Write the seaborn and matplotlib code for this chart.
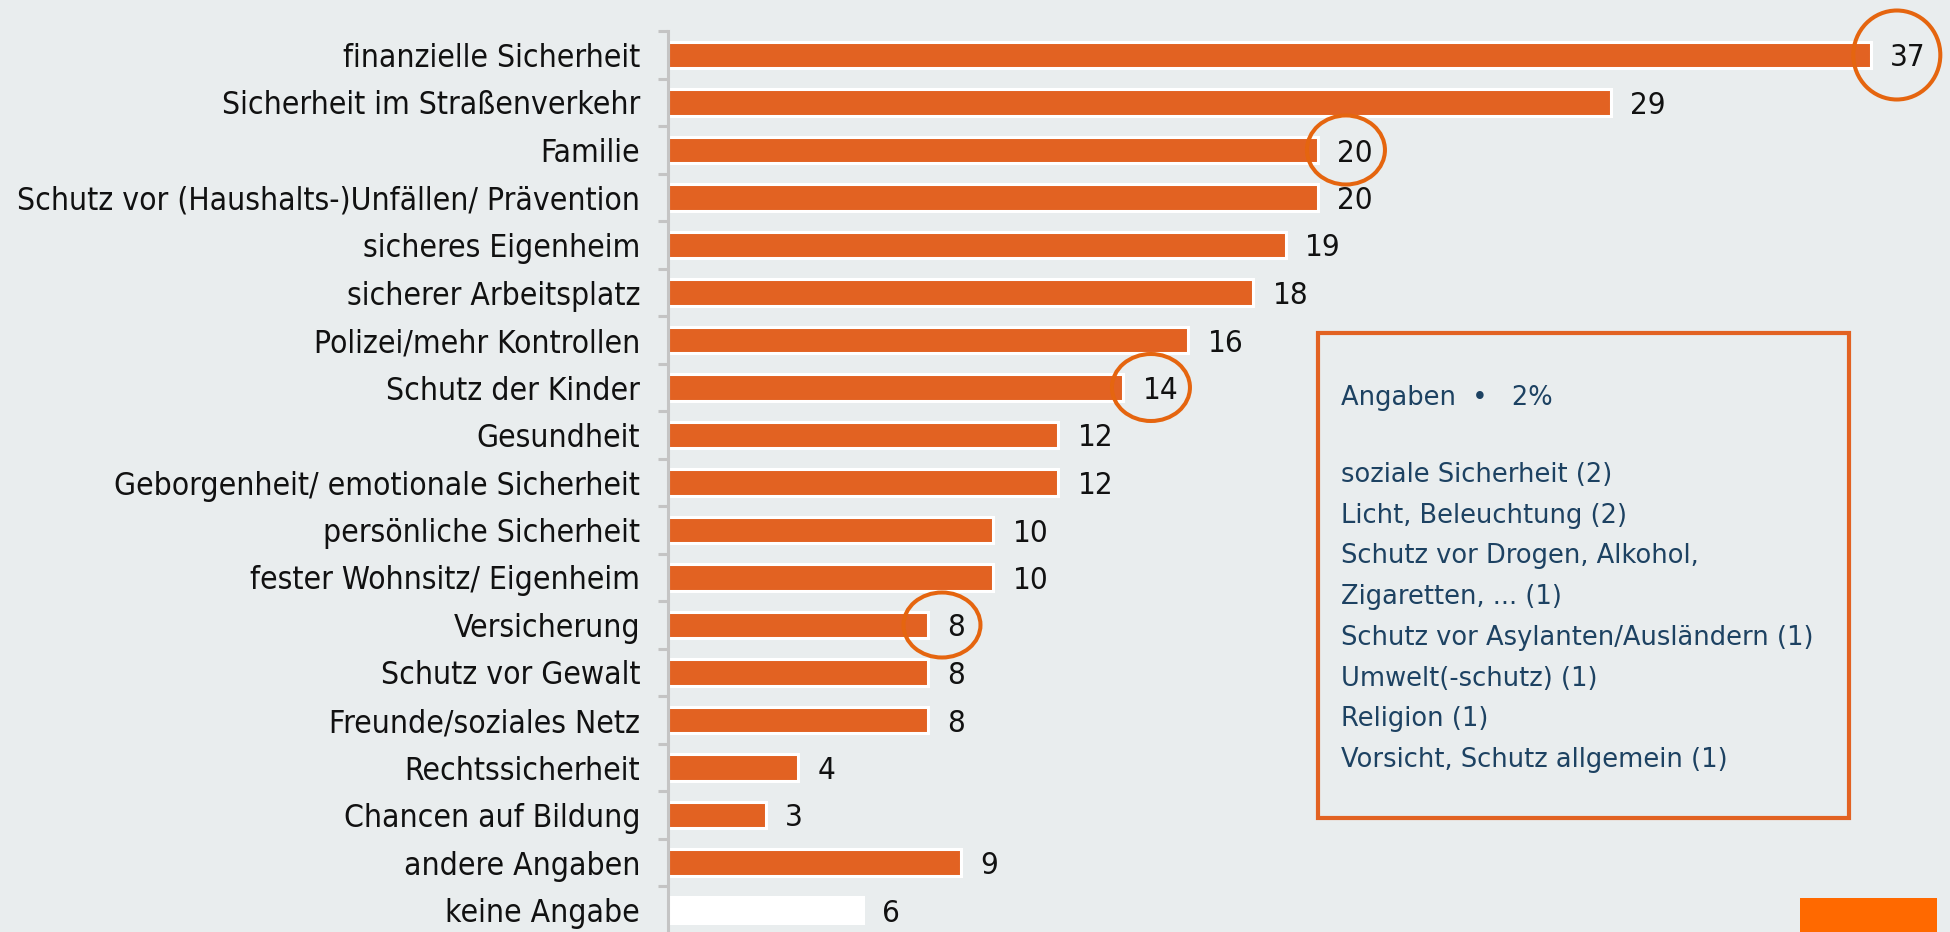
import numpy as np
import pandas as pd
import seaborn as sns
import matplotlib.pyplot as plt
from matplotlib.patches import Ellipse, Rectangle

# data (percent)
categories = ['finanzielle Sicherheit', 'Sicherheit im Straßenverkehr', 'Familie',
              'Schutz vor (Haushalts-)Unfällen/ Prävention', 'sicheres Eigenheim',
              'sicherer Arbeitsplatz', 'Polizei/mehr Kontrollen', 'Schutz der Kinder',
              'Gesundheit', 'Geborgenheit/ emotionale Sicherheit', 'persönliche Sicherheit',
              'fester Wohnsitz/ Eigenheim', 'Versicherung', 'Schutz vor Gewalt',
              'Freunde/soziales Netz', 'Rechtssicherheit', 'Chancen auf Bildung',
              'andere Angaben', 'keine Angabe']
values = [37, 29, 20, 20, 19, 18, 16, 14, 12, 12, 10, 10, 8, 8, 8, 4, 3, 9, 6]

# circled values: category, x shift of circle centre, circle width/height in px
highlight = [('finanzielle Sicherheit', 0.81, 87, 89),
             ('Familie', 0.86, 78, 69),
             ('Schutz der Kinder', 0.86, 78, 67),
             ('Versicherung', 0.43, 77, 65)]

box_title = 'Angaben  •   2%'
box_items = ['soziale Sicherheit (2)', 'Licht, Beleuchtung (2)',
             'Schutz vor Drogen, Alkohol,', 'Zigaretten, ... (1)',
             'Schutz vor Asylanten/Ausländern (1)', 'Umwelt(-schutz) (1)',
             'Religion (1)', 'Vorsicht, Schutz allgemein (1)']

orange = '#E26222'
ring = '#E5650F'
bg = '#E9EDEE'
navy = '#1D4262'

sns.set_style('white')
plt.rcParams['font.family'] = ['DejaVu Sans']
plt.rcParams['font.stretch'] = 'condensed'

W, H = 1950, 932
fig = plt.figure(figsize=(W / 100, H / 100), dpi=100)
fig.patch.set_facecolor(bg)

px_x = 32.5   # px per percent
px_y = 47.5   # px per row
left = 668
top = 31.25
ax = fig.add_axes([left / W, 1 - (top + 19 * px_y) / H, 39 * px_x / W, 19 * px_y / H])
ax.set_facecolor(bg)

df = pd.DataFrame({'cat': categories, 'val': values})
colors = [orange] * (len(categories) - 1) + ['white']
sns.barplot(data=df, x='val', y='cat', hue='cat', palette=colors, legend=False,
            dodge=False, orient='h', width=0.55, edgecolor='white', linewidth=2.2,
            saturation=1, ax=ax)

ax.set_xlim(0, 39)
ax.set_ylim(18.5, -0.5)
ax.set_xlabel('')
ax.set_ylabel('')
ax.set_xticks([])
for s in ['top', 'right', 'bottom']:
    ax.spines[s].set_visible(False)
ax.spines['left'].set_color('#C4C4C4')
ax.spines['left'].set_linewidth(2.2)
ax.set_yticks(np.arange(-0.5, 19, 1), minor=True)
ax.tick_params(axis='y', which='minor', length=7, width=2.2, color='#C4C4C4', left=True)
ax.tick_params(axis='y', which='major', length=0, pad=20, labelsize=22.8, labelcolor='#111111')

# value labels
for i, v in enumerate(values):
    ax.annotate(str(v), (v, i), xytext=(14, 0), textcoords='offset points',
                va='center_baseline', ha='left', fontsize=22.5, color='#111111')

# circles around some values
for cat, dx, w, h in highlight:
    i = categories.index(cat)
    e = Ellipse((values[i] + dx, i), w / px_x, h / px_y, fill=False,
                edgecolor=ring, linewidth=2.9, clip_on=False, zorder=5)
    ax.add_patch(e)

# side box with further answers
fig.patches.append(Rectangle((1318 / W, 1 - 818 / H), 531 / W, 485 / H,
                             transform=fig.transFigure, fill=False,
                             edgecolor=orange, linewidth=3))
fig.text(1341 / W, 1 - 398 / H, box_title, color=navy, fontsize=18.5,
         fontstretch='normal', va='center', ha='left')
for k, item in enumerate(box_items):
    fig.text(1341 / W, 1 - (475 + 40.7 * k) / H, item, color=navy, fontsize=18.5,
             fontstretch='normal', va='center', ha='left')

# orange corner mark
fig.patches.append(Rectangle((1800 / W, 0), 137 / W, 34 / H, transform=fig.transFigure,
                             facecolor='#FF6900', edgecolor='none'))

fig.savefig('out.png', dpi=100, facecolor=bg)
